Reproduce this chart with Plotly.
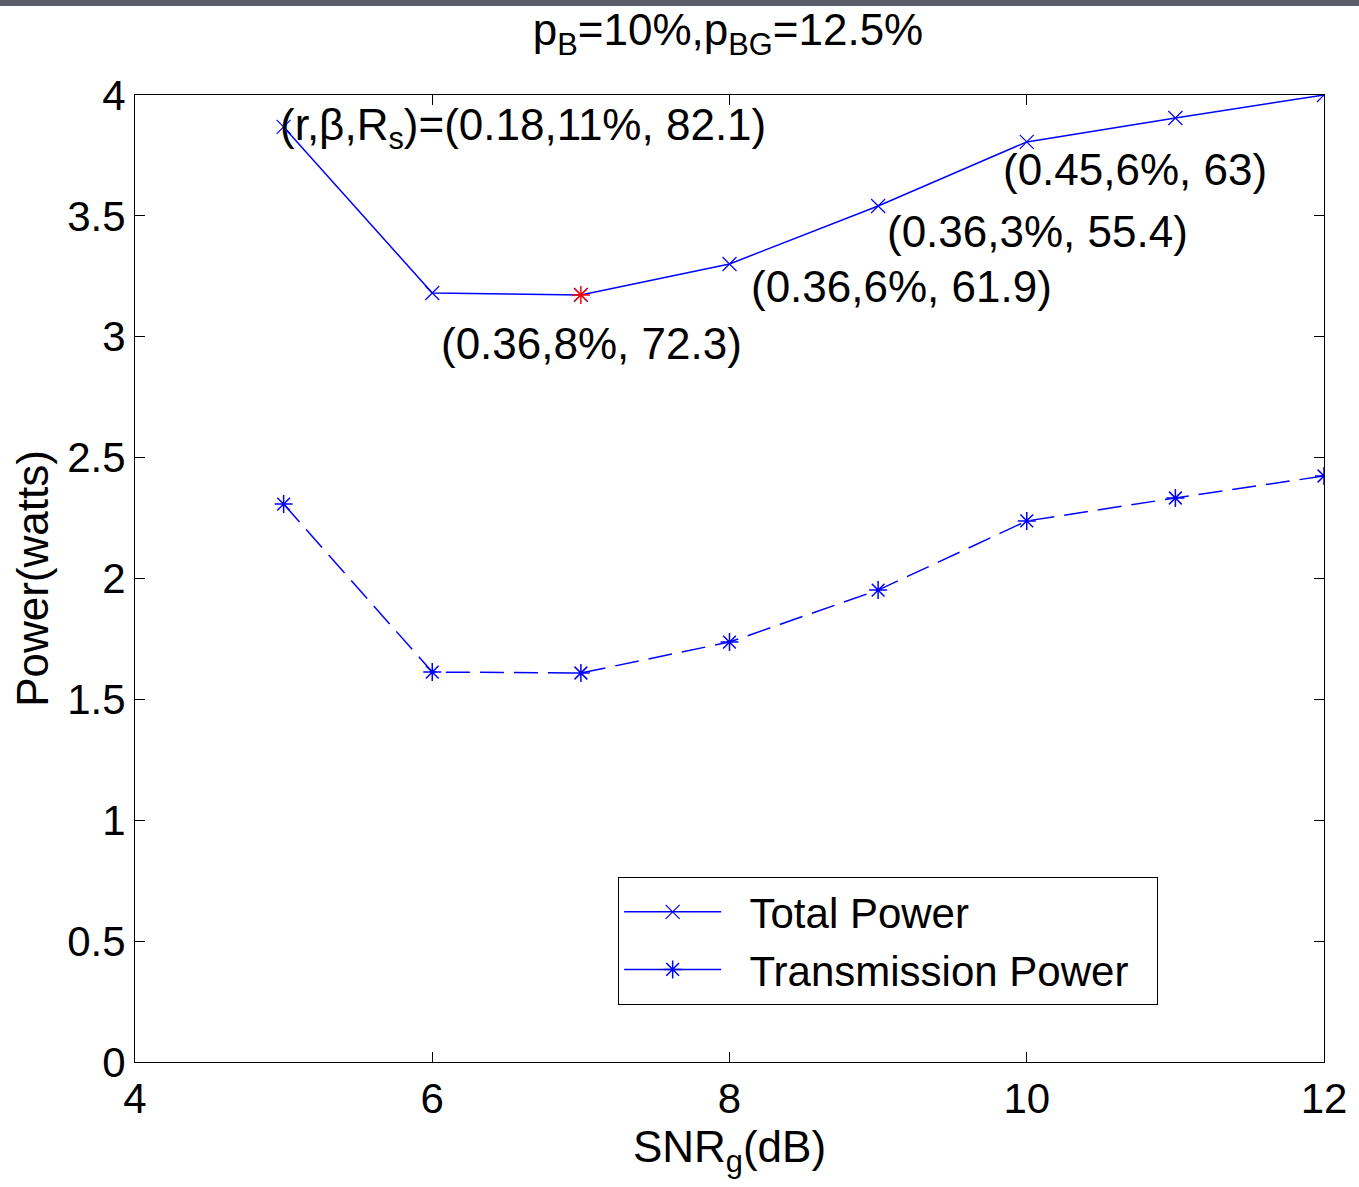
import plotly.graph_objects as go

snr = [5, 6, 7, 8, 9, 10, 11, 12]
total_power = [3.868, 3.181, 3.173, 3.301, 3.541, 3.806, 3.905, 4.0]
trans_power = [2.308, 1.613, 1.609, 1.737, 1.952, 2.238, 2.333, 2.424]
optimum_snr = 7

ann_texts = ["(r,β,R<sub>s</sub>)=(0.18,11%, 82.1)", "(0.36,8%, 72.3)",
             "(0.36,6%, 61.9)", "(0.36,3%, 55.4)", "(0.45,6%, 63)"]
ann_x = [4.959, 6.046, 8.131, 9.044, 9.828]
ann_y = [3.863, 2.974, 3.206, 3.437, 3.690]

x_ticks = [4, 6, 8, 10, 12]
y_ticks = [0, 0.5, 1, 1.5, 2, 2.5, 3, 3.5, 4]

FONT = "Liberation Sans, Arial, sans-serif"
BLUE = "#0000ff"
NB = "\u00a0"

fig = go.Figure()
fig.add_trace(go.Scatter(
    x=snr, y=total_power, mode="lines+markers", name=NB * 2 + "Total Power",
    showlegend=False,
    line=dict(color=BLUE, width=1.5),
    marker=dict(symbol="x-thin", size=14, line=dict(color=BLUE, width=1.2), color=BLUE)))
fig.add_trace(go.Scatter(
    x=snr, y=trans_power, mode="lines+markers", name=NB * 2 + "Transmission Power" + NB * 2,
    showlegend=False,
    line=dict(color=BLUE, width=1.5, dash="24px,10px"),
    marker=dict(symbol="asterisk", size=15, line=dict(color=BLUE, width=1.5), color=BLUE)))
i_opt = snr.index(optimum_snr)
fig.add_trace(go.Scatter(
    x=[snr[i_opt]], y=[total_power[i_opt]], mode="markers", showlegend=False,
    marker=dict(symbol="asterisk", size=15, line=dict(color="#ff0000", width=1.5), color="#ff0000")))

# legend entries (solid line samples, as in the original legend)
fig.add_trace(go.Scatter(
    x=[None], y=[None], mode="lines+markers", name=NB * 2 + "Total Power",
    line=dict(color=BLUE, width=1.5),
    marker=dict(symbol="x-thin", size=14, line=dict(color=BLUE, width=1.2), color=BLUE)))
fig.add_trace(go.Scatter(
    x=[None], y=[None], mode="lines+markers", name=NB * 2 + "Transmission Power" + NB * 2,
    line=dict(color=BLUE, width=1.5),
    marker=dict(symbol="asterisk", size=15, line=dict(color=BLUE, width=1.5), color=BLUE)))

for t, ax, ay in zip(ann_texts, ann_x, ann_y):
    fig.add_annotation(x=ax, y=ay, xref="x", yref="y", text=t, showarrow=False,
                       xanchor="left", yanchor="middle",
                       font=dict(family=FONT, size=44, color="black"))

fig.add_shape(type="rect", xref="paper", yref="paper",
              x0=-0.12, x1=1.03, y0=1 + 89 / 967, y1=1 + 97 / 967,
              fillcolor="#5b5b6b", line=dict(width=0), layer="above")

axis_common = dict(showgrid=False, zeroline=False, showline=True, linecolor="black",
                   linewidth=1, mirror="allticks", ticks="inside", ticklen=10,
                   tickcolor="black", tickfont=dict(family=FONT, size=42, color="black"))

fig.update_layout(
    width=1359, height=1187,
    paper_bgcolor="white", plot_bgcolor="white",
    margin=dict(l=135, r=28, t=95, b=125),
    font=dict(family=FONT, color="black"),
    title=dict(text="p<sub>B</sub>=10%,p<sub>BG</sub>=12.5%", x=728 / 1359, xanchor="center",
               y=1 - 30 / 1187, yanchor="middle", yref="container",
               font=dict(family=FONT, size=44, color="black")),
    xaxis=dict(range=[4, 12], tickvals=x_ticks, ticktext=[str(v) for v in x_ticks],
               title=dict(text="SNR<sub>g</sub>(dB)", font=dict(family=FONT, size=44), standoff=8),
               **axis_common),
    yaxis=dict(range=[0, 4], tickvals=y_ticks, ticktext=[f"{v:g}" for v in y_ticks],
               title=dict(text="Power(watts)", font=dict(family=FONT, size=44), standoff=4),
               **axis_common),
    legend=dict(x=(621 - 135) / 1196, y=(1062 - 877) / 967, xanchor="left", yanchor="top",
                bgcolor="white", bordercolor="black", borderwidth=1,
                font=dict(family=FONT, size=42, color="black"), itemwidth=97,
                tracegroupgap=0),
)

fig.write_html("out.html", config={"displayModeBar": False},
               post_script="document.body.style.margin='0px';")
